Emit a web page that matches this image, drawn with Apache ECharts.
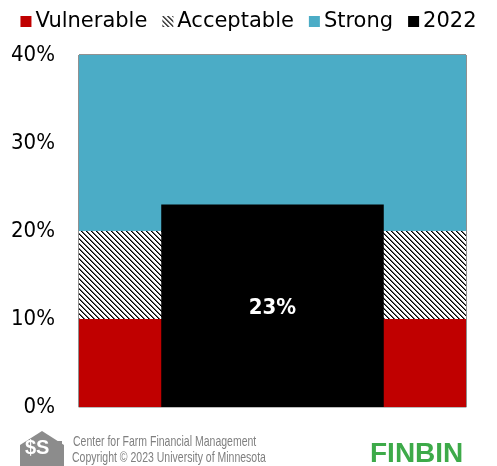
<!DOCTYPE html>
<html>
<head>
<meta charset="utf-8">
<script src="https://cdn.jsdelivr.net/npm/echarts@6/dist/echarts.min.js"></script>
<style>
  html, body { margin: 0; padding: 0; background: #fff; }
  #main { width: 497px; height: 466px; }
</style>
</head>
<body>
<div id="main"></div>
<script>
var categories = ['FINBIN'];
var vulnerable = [10];
var acceptable = [10];
var strong = [20];
var year2022 = [23];
var yTicks = [0, 10, 20, 30, 40];

// hatch tile for "Acceptable"
function hatch() {
  var c = document.createElement('canvas');
  c.width = 5; c.height = 5;
  var ctx = c.getContext('2d');
  ctx.fillStyle = '#fff';
  ctx.fillRect(0, 0, 5, 5);
  ctx.fillStyle = '#000';
  for (var i = 0; i < 5; i++) {
    ctx.fillRect(i, i, 1, 1);
  }
  ctx.fillStyle = '#666';
  for (var j = 0; j < 5; j++) {
    ctx.fillRect((j + 1) % 5, j, 1, 1);
  }
  return c;
}

var font = 'DejaVu Sans Condensed';
var myChart = echarts.init(document.getElementById('main'));
var option = {
  animation: false,
  legend: {
    top: 6,
    left: 'center',
    itemWidth: 11,
    itemHeight: 11,
    itemGap: 15,
    icon: 'rect',
    textStyle: { fontFamily: 'DejaVu Sans', fontSize: 21, color: '#000', padding: [0, 0, 0, -1] },
    data: ['Vulnerable', 'Acceptable', 'Strong', '2022']
  },
  grid: {
    left: 79, right: 31, top: 55, bottom: 59,
    show: true, borderColor: '#222', borderWidth: 1
  },
  xAxis: [
    {
      type: 'category', data: categories,
      axisLine: { show: true, lineStyle: { color: '#bbb' } },
      axisTick: { show: false }, axisLabel: { show: false }
    },
    {
      type: 'category', data: categories, show: false
    }
  ],
  yAxis: {
    type: 'value', min: yTicks[0], max: yTicks[yTicks.length - 1], interval: 10,
    splitLine: { show: false },
    axisLine: { show: false },
    axisTick: { show: false },
    axisLabel: {
      formatter: '{value}%', fontFamily: font, fontSize: 22, color: '#000', margin: 24
    }
  },
  series: [
    {
      name: 'Vulnerable', type: 'bar', stack: 'band', barWidth: '100%',
      data: vulnerable, itemStyle: { color: '#C00000' }
    },
    {
      name: 'Acceptable', type: 'bar', stack: 'band', barWidth: '100%',
      data: acceptable, itemStyle: { color: { image: hatch(), repeat: 'repeat' } }
    },
    {
      name: 'Strong', type: 'bar', stack: 'band', barWidth: '100%',
      data: strong, itemStyle: { color: '#4BACC6' }
    },
    {
      name: '2022', type: 'bar', xAxisIndex: 1, barWidth: '57.5%',
      data: year2022, itemStyle: { color: '#000' },
      label: {
        show: true, position: 'inside', formatter: '{c}%', offset: [0, 2],
        color: '#fff', fontFamily: font, fontWeight: 'bold', fontSize: 22
      }
    }
  ],
  graphic: [
    {
      type: 'polygon', left: 20, top: 431,
      shape: { points: [[0, 14], [22, 0], [44, 14], [44, 35], [0, 35]] },
      style: { fill: '#8c8c8c' }
    },
    {
      type: 'text', left: 25, top: 438,
      style: { text: '$S', fill: '#fff', font: 'bold 20px "Liberation Sans"' }
    },
    {
      type: 'rect', left: 52, top: 441, shape: { width: 10, height: 25 },
      style: { fill: '#8c8c8c' }
    },
    {
      type: 'text', x: 73, y: 434, scaleX: 0.7,
      style: { text: 'Center for Farm Financial Management', fill: '#7f7f7f',
        font: '15px "Liberation Sans"' }
    },
    {
      type: 'text', x: 72, y: 450, scaleX: 0.7,
      style: { text: 'Copyright \u00a9 2023 University of Minnesota', fill: '#7f7f7f',
        font: '15px "Liberation Sans"' }
    },
    {
      type: 'text', left: 370, top: 440,
      style: { text: 'FINBIN', fill: '#3DAA49', font: 'bold 28px "Liberation Sans"' }
    }
  ]
};
myChart.setOption(option);
window.addEventListener('resize', function () {
  myChart.resize();
});
</script>
</body>
</html>
